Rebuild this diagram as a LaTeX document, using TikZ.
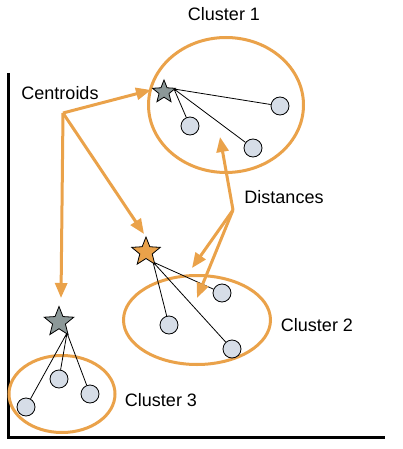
\documentclass[tikz,border=0pt]{standalone}
\usepackage{fontspec}
\setmainfont{Liberation Sans}
\usetikzlibrary{shapes.geometric,arrows.meta}
\definecolor{orng}{RGB}{234,162,74}
\definecolor{ptfill}{RGB}{214,221,231}
\definecolor{stargray}{RGB}{140,152,152}
\tikzset{
  pt/.style={circle,draw=black,fill=ptfill,line width=0.8pt,minimum size=18pt,inner sep=0pt},
  clus/.style={ellipse,draw=orng,line width=3pt,inner sep=0pt},
  cstar/.style={star,star points=5,star point ratio=2.3,draw=black,line width=0.8pt,inner sep=0pt},
  link/.style={black,line width=0.8pt},
  arr/.style={orng,line width=3pt,-{Triangle[length=15pt,width=12pt]}},
  lbl/.style={font=\fontsize{18}{21}\selectfont,inner sep=0pt},
  axisline/.style={black,line width=3pt}
}
\begin{document}
\begin{tikzpicture}[x=1pt,y=-1pt]
\useasboundingbox (0,0) rectangle (403,449);
% axes
\coordinate (ytop) at (8,73);
\coordinate (orig) at (8,437);
\coordinate (xend) at (385,437);
\draw[axisline] (ytop) -- (orig) -- (xend);
% ellipses
\node[clus,minimum width=155pt,minimum height=135pt] (e1) at (226,105) {};
\node[clus,minimum width=147pt,minimum height=89pt] (e2) at (197,320) {};
\node[clus,minimum width=106pt,minimum height=77pt] (e3) at (62,394) {};
% points
\node[pt] (p11) at (280,106) {};
\node[pt] (p12) at (190,126) {};
\node[pt] (p13) at (253,148) {};
\node[pt] (p21) at (222,293) {};
\node[pt] (p22) at (169,325) {};
\node[pt] (p23) at (232,349) {};
\node[pt] (p31) at (59,379) {};
\node[pt] (p32) at (90,394) {};
\node[pt] (p33) at (26,407) {};
% link origins
\coordinate (o1) at (174,89);
\coordinate (o2) at (153,262);
\coordinate (o3) at (67,333);
\draw[link] (o1) -- (p11) (o1) -- (p12) (o1) -- (p13);
\draw[link] (o2) -- (p21) (o2) -- (p22) (o2) -- (p23);
\draw[link] (o3) -- (p31) (o3) -- (p32) (o3) -- (p33);
% stars
\node[cstar,fill=stargray,minimum size=24pt] (s1) at (164,92) {};
\node[cstar,fill=orng,minimum size=30pt] (s2) at (146,252) {};
\node[cstar,fill=stargray,minimum size=31pt] (s3) at (59,322) {};
% labels
\node[lbl] (l1) at (224,14) {Cluster 1};
\node[lbl] (lc) at (60,93) {Centroids};
\node[lbl] (ld) at (284,197) {Distances};
\node[lbl] (l2) at (317,325) {Cluster 2};
\node[lbl] (l3) at (161,400) {Cluster 3};
% centroid arrows
\coordinate (co) at (63,113);
\coordinate (ct1) at (151,90);
\coordinate (ct2) at (144,234);
\coordinate (ct3) at (61,298);
\draw[arr] (co) -- (ct1);
\draw[arr] (co) -- (ct2);
\draw[arr] (co) -- (ct3);
% distance arrows
\coordinate (do) at (233,210);
\coordinate (dt1) at (220,137);
\coordinate (dt2) at (192,268);
\coordinate (dt3) at (197,298);
\draw[arr] (do) -- (dt1);
\draw[arr] (do) -- (dt2);
\draw[arr] (do) -- (dt3);
\end{tikzpicture}
\end{document}
